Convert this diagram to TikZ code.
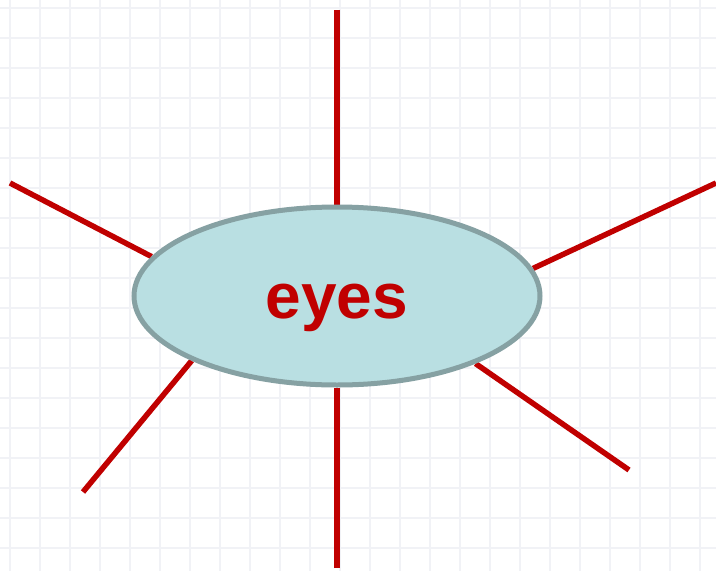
\documentclass[tikz,border=0pt]{standalone}
\usepackage{fontspec}
\setmainfont{Liberation Sans}
\usetikzlibrary{shapes.geometric}
\pgfdeclarelayer{paperlayer}
\pgfdeclarelayer{spokelayer}
\pgfsetlayers{paperlayer,spokelayer,main}
\definecolor{spokered}{HTML}{C00000}
\definecolor{ellfill}{HTML}{B9DFE2}
\definecolor{elldraw}{HTML}{86A1A3}
\definecolor{gridcol}{HTML}{F1F2F6}
\tikzset{
  spoke/.style={draw=spokered, line width=5.5pt},
  hub/.style={ellipse, draw=elldraw, fill=ellfill, line width=5pt,
    minimum width=406pt, minimum height=178pt, inner sep=0pt,
    text height=44pt, text depth=0pt,
    text=spokered, font=\bfseries\fontsize{64}{64}\selectfont},
  paper/.style={draw=gridcol, line width=1.8pt}
}
\begin{document}
\begin{tikzpicture}[x=1pt,y=-1pt]
  \useasboundingbox (0,0) rectangle (716,571);
  \begin{pgfonlayer}{paperlayer}
    \fill[white] (0,0) rectangle (716,571);
    \foreach \x in {10,40,...,716} \draw[paper] (\x,0) -- (\x,571);
    \foreach \y in {8,38,...,571} \draw[paper] (0,\y) -- (716,\y);
  \end{pgfonlayer}
  \node[hub] (e) at (337,296) {eyes};
  \coordinate (t) at (337,10);
  \coordinate (b) at (337,568);
  \coordinate (ul) at (10,183);
  \coordinate (ll) at (83,492);
  \coordinate (ur) at (716,183);
  \coordinate (lr) at (629,470);
  \begin{pgfonlayer}{spokelayer}
    \draw[spoke] (t) -- (e.90);
    \draw[spoke] (b) -- (e.270);
    \draw[spoke] (ul) -- (e.168.2);
    \draw[spoke] (ll) -- (e.204.6);
    \draw[spoke] (ur) -- (e.8.9);
    \draw[spoke] (lr) -- (e.334.1);
  \end{pgfonlayer}
\end{tikzpicture}
\end{document}
